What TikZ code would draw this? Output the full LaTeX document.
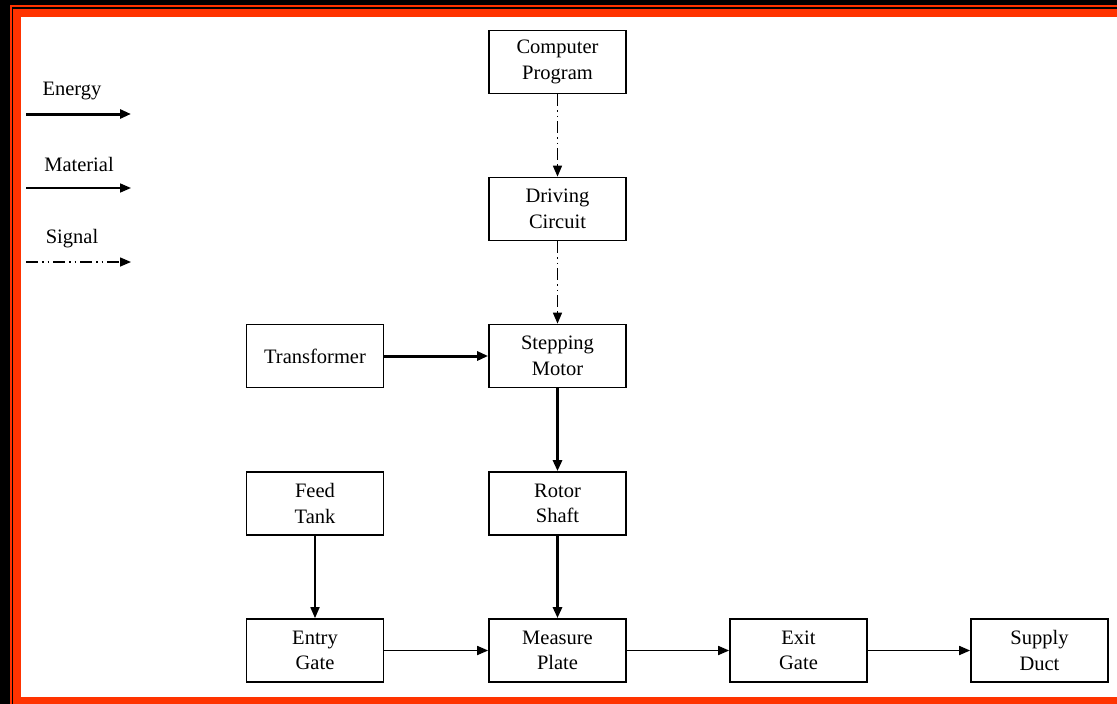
\documentclass[tikz,border=0pt]{standalone}
\usepackage{fontspec}
\setmainfont{Liberation Serif}
\usetikzlibrary{arrows.meta}
\definecolor{frame}{HTML}{FF3300}
\tikzset{
  blk/.style={draw=black, line width=1.7pt, fill=white, minimum width=137pt,
    minimum height=63pt, align=center, inner sep=0pt,
    font=\fontsize{20.5pt}{25.5pt}\selectfont},
  lbl/.style={font=\fontsize{20.5pt}{25pt}\selectfont, inner sep=0pt},
  tip/.style={-{Triangle[length=11pt,width=9pt]}},
  energy/.style={tip, line width=3pt},
  material/.style={tip, line width=1.7pt},
  signal/.style={tip, line width=1.5pt,
    dash pattern=on 12pt off 4pt on 1.5pt off 4pt on 1.5pt off 4pt},
}
\begin{document}
\begin{tikzpicture}[x=1pt,y=-1pt]
  % frame
  \useasboundingbox (0,0) rectangle (1117,704);
  \fill[black] (0,0) rectangle (1117,704);
  \fill[frame] (9.5,5) rectangle (1117,704);
  \fill[black] (11.5,7) rectangle (1117,704);
  \fill[frame] (13,9) rectangle (1117,704);
  \fill[white] (21,17) rectangle (1117,697);

  % legend
  \node[lbl] (lE) at (72,91) {Energy};
  \coordinate (e0) at (26,114);
  \coordinate (e1) at (131,114);
  \draw[energy] (e0) -- (e1);
  \node[lbl] (lM) at (79,164) {Material};
  \coordinate (m0) at (26,188);
  \coordinate (m1) at (131,188);
  \draw[material] (m0) -- (m1);
  \node[lbl] (lS) at (72,239) {Signal};
  \coordinate (s0) at (26,262);
  \coordinate (s1) at (131,262);
  \draw[signal] (s0) -- (s1);

  % blocks
  \node[blk] (cp) at (557.5,62) {Computer\\Program};
  \node[blk] (dc) at (557.5,209) {Driving\\Circuit};
  \node[blk] (sm) at (557.5,356) {Stepping\\Motor};
  \node[blk] (tr) at (315,356) {Transformer};
  \node[blk] (ft) at (315,503.5) {Feed\\Tank};
  \node[blk] (rs) at (557.5,503.5) {Rotor\\Shaft};
  \node[blk] (eg) at (315,650.5) {Entry\\Gate};
  \node[blk] (mp) at (557.5,650.5) {Measure\\Plate};
  \node[blk] (xg) at (798.5,650.5) {Exit\\Gate};
  \node[blk] (sd) at (1039.5,650.5) {Supply\\Duct};

  % connections
  \draw[signal] (cp) -- (dc);
  \draw[signal] (dc) -- (sm);
  \draw[energy] (tr) -- (sm);
  \draw[energy] (sm) -- (rs);
  \draw[energy] (rs) -- (mp);
  \draw[material] (ft) -- (eg);
  \draw[material] (eg) -- (mp);
  \draw[material] (mp) -- (xg);
  \draw[material] (xg) -- (sd);
\end{tikzpicture}
\end{document}
